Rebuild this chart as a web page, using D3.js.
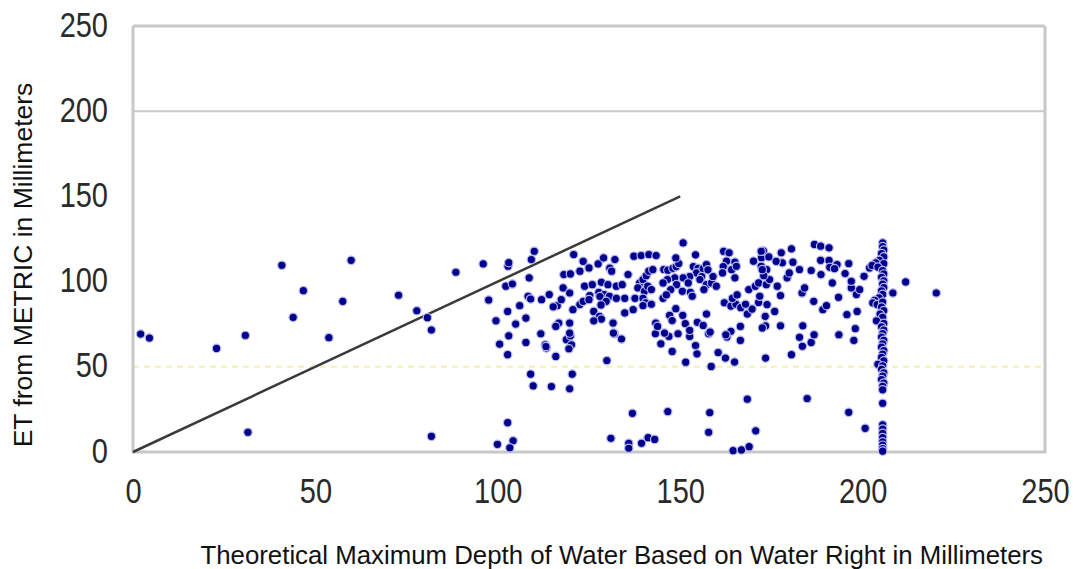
<!DOCTYPE html>
<html>
<head>
<meta charset="utf-8">
<script src="https://cdn.jsdelivr.net/npm/d3@7"></script>
<style>
  body { margin: 0; background: #fff; }
  text { font-family: "Liberation Sans", Arial, sans-serif; }
</style>
</head>
<body>
<div id="root"></div>
<script>
// Size of the chart
const width = 1073;
const height = 569;
const margin = { top: 26, right: 28, bottom: 117, left: 133 };

// Axis ticks
const xTicks = [0, 50, 100, 150, 200, 250];
const yTicks = [0, 50, 100, 150, 200, 250];

// 1:1 reference line
const lineX = [0, 150];
const lineY = [0, 150];

// Points left of the dense cloud [x, y]
const leftPoints = [
  [2.1, 69.2], [4.5, 66.9], [22.9, 60.8], [30.8, 68.4], [31.5, 11.6],
  [40.8, 109.6], [43.9, 79], [46.7, 94.7], [53.7, 67.1], [57.5, 88.4],
  [59.8, 112.5], [72.8, 92], [77.8, 82.9], [80.7, 78.8], [81.8, 71.6],
  [81.8, 9.2], [88.5, 105.5], [96, 110.4], [97.5, 89.2], [99.5, 77],
  [99.9, 4.5], [100.5, 63.3]
];

// Low values (below 50)
const lowPoints = [
  [102.7, 17.2], [104.2, 6.6], [103.3, 2.5], [109, 45.7], [109.7, 38.8],
  [114.7, 38.4], [120.4, 45.7], [119.7, 37.1], [131, 8], [136.9, 22.7],
  [135.9, 5.1], [135.9, 2.2], [139.4, 5.1], [141.2, 8.4], [143, 7.4],
  [146.6, 23.7], [158.1, 23.1], [157.8, 11.6], [168.4, 31], [170.7, 12.4],
  [164.5, 0.8], [166.8, 1.2], [168.9, 3.1], [184.8, 31.4], [196.2, 23.3],
  [200.7, 13.9]
];

// Main cloud between 100 and 200
const cloudPoints = [
  [102.7, 57.1], [103, 68.2], [107.7, 64.3], [113.3, 61], [113, 62.9],
  [115.9, 56.1], [111.8, 69.4], [118.8, 65.9], [120.2, 62.9], [119.5, 60.6],
  [119.9, 68.2], [129.9, 53.7], [132, 69.4], [133.9, 66.3], [143.2, 69.4],
  [144.7, 63.5], [146.9, 67.8], [149.4, 69.4], [147.8, 59], [151.5, 52.7],
  [152.6, 67.8], [154.2, 62.5], [154.6, 57.6], [158.5, 50.2], [157.8, 69.4],
  [160.4, 58.4], [162.4, 55.1], [164.9, 52.8], [162.8, 67.5], [166.5, 65.5],
  [173.4, 55.1], [102.7, 82.5], [104.9, 75.1], [107.7, 78.6], [106, 85.9],
  [108.3, 91.4], [109, 89.8], [113.2, 61.9], [102.2, 97.3], [104, 98.6],
  [102.8, 109], [103, 111.1], [108.6, 102.2], [110, 117.8], [109.2, 112.9],
  [112, 89.4], [114.1, 92.4], [116.3, 85.9], [115.2, 85.2], [117.4, 89.4],
  [117.9, 96.3], [119.7, 93.3], [118.1, 104.1], [119.9, 104.5], [122.5, 106.1],
  [120.8, 115.9], [123.4, 111.9], [125, 108], [127.5, 110.4], [129, 113.9],
  [130.7, 107.9], [132.1, 112.9], [131.2, 106.1], [123.8, 97.3], [125.9, 98.2],
  [128.4, 99.6], [130.2, 98.2], [132.5, 97.3], [134.1, 98.2], [127.7, 93.7],
  [129.2, 92.4], [130.6, 91.4], [128, 91.2], [129.7, 88.4], [132.5, 90.2],
  [134.8, 90.2], [125.2, 91.8], [122.5, 86.5], [123.4, 88.4], [125, 89.4],
  [128.3, 86.3], [120.6, 83.5], [126.3, 82.5], [127.9, 79.6], [128.4, 78],
  [126.3, 77], [131.6, 75.7], [131.7, 69.8], [119.7, 75.7], [116.7, 75.7],
  [115.9, 73.7], [119.7, 69.8], [135.7, 104.1], [137.3, 114.9], [139.3, 115.3],
  [141.4, 115.9], [143.4, 115.3], [138.9, 99.2], [139.8, 101.2], [140.7, 103.5],
  [141.4, 106.1], [142.5, 107], [138.4, 96.3], [140.2, 94.3], [141.1, 97.3],
  [142.1, 95.3], [137.6, 90.2], [139.8, 90.2], [140.5, 87.6], [139.8, 85.9],
  [142.1, 86.7], [137.1, 83.5], [134.8, 81.6], [145.5, 107.1], [146.6, 106.7],
  [148, 107.8], [148.9, 108.8], [149.6, 110.6], [148.8, 113.9], [150.8, 122.7],
  [154.2, 115.7], [153.6, 108.8], [154.9, 107.8], [154.5, 105.1], [156.3, 107.6],
  [157.2, 110], [157.6, 106.9], [155.9, 103], [152.6, 103], [150.8, 102.2],
  [148.5, 102.2], [146.5, 101.2], [145.3, 99.2], [149, 98.2], [152.2, 99.2],
  [155.4, 101.2], [157.2, 98.2], [158.6, 99.2], [159.9, 97.3], [159, 103],
  [161.9, 117.8], [163.4, 116.9], [162.7, 112], [165, 111.4], [161.8, 108.8],
  [164.1, 107], [165.4, 109], [161.6, 105.1], [165, 102.2], [147.4, 95.3],
  [150.6, 94.3], [152.8, 93.7], [156.5, 95.3], [153.3, 91.4], [145.3, 90.2],
  [146.2, 92.2], [148.8, 84.1], [147.1, 80.2], [147.8, 77.1], [150.7, 80.2],
  [151.4, 75.3], [152.6, 71.4], [154.7, 76.1], [157.2, 81], [156.3, 74.3],
  [158.2, 70.4], [143.3, 75.7], [143.8, 73.7], [145.7, 69.8], [162.1, 87.6],
  [163.9, 85.6], [165.3, 86.7], [166.6, 84.7], [164.3, 90.2], [165.6, 92.2],
  [168.4, 81], [169.7, 83.9], [171.5, 87.8], [167.9, 86.7], [168.8, 95.3],
  [170.6, 97.3], [171.5, 99.2], [170.1, 112], [172.3, 114], [172.8, 118],
  [173.7, 107], [166.5, 73.7], [163.9, 70.8], [162.5, 68.8], [173.4, 74],
  [180.5, 57.1], [182.7, 67.3], [183.5, 62], [185.9, 64.3], [186.7, 68.8],
  [183.6, 74.1], [193.5, 68.8], [197.6, 65.5], [198, 72.4], [195.7, 80.6],
  [198.5, 82.5], [177.5, 74.1], [172.5, 72.8], [173.3, 79.6], [175.9, 82.5],
  [173.8, 86.5], [186.6, 88.4], [189.1, 83.5], [190.1, 85.9], [193.4, 90.8],
  [183.4, 93.3], [184.1, 96.3], [177.5, 91.8], [176.6, 97.3], [171.8, 91.4],
  [173.6, 98.2], [196.9, 96.3], [198.3, 92.4], [199.2, 95.3], [196.9, 100.2],
  [191.7, 99.2], [179.3, 102.2], [179.9, 105.1], [174.5, 101.2], [172.9, 103.5],
  [185.9, 106.5], [188.6, 104.1], [182.7, 107.1], [180.9, 111.4], [178, 111],
  [176.3, 111.9], [174.3, 114.5], [177.7, 116.9], [172.2, 117.8], [180.5, 119.2],
  [186.8, 121.8], [188.5, 120.8], [190.8, 119.8], [188.5, 112.5], [190.8, 112.4],
  [191, 108.4], [193, 110], [192.3, 107.6], [196.2, 110.6], [195.2, 104.7],
  [172.2, 109], [172.5, 107], [200.4, 103.1], [201.9, 108]
];

// Points right of the cloud
const rightPoints = [
  [208.3, 93.3], [211.8, 99.8], [220.2, 93.3]
];

// The vertical column of points near 205 [x, y]
const columnPoints = [
  [205.5, 122.7], [205.5, 120.5], [205.8, 118.5], [205.2, 116.5], [205.8, 114.5],
  [204.6, 112.5], [203.6, 111], [202.6, 109.5], [205.8, 110.5], [204.2, 108.5],
  [205.5, 106.5], [205.8, 104.5], [205.2, 102.5], [205.8, 100.5], [205.5, 98.5],
  [205.8, 96.5], [205.2, 94.5], [205.5, 92.5], [204.5, 90.5], [203.3, 89],
  [202.8, 87.5], [204, 86.5], [205.5, 88], [205.2, 85], [205.8, 83],
  [204.8, 81], [205.5, 79], [203.8, 77], [205.8, 75.5], [205.2, 73.5],
  [205.8, 71.5], [205.5, 69.5], [205.2, 67.5], [205.8, 65.5], [205.5, 63.5],
  [205.2, 61.5], [205.8, 59.5], [205.5, 57.5], [205.2, 55.5], [205.8, 53.5],
  [204.2, 51.5], [205.5, 50.5], [205.2, 48.5], [205.8, 46.5], [205.5, 44.5],
  [205.2, 42.5], [205.8, 40.5], [205.5, 38.5], [205.5, 36.5], [205.5, 28.6],
  [205.5, 16], [205.5, 13.5], [205.5, 11], [205.5, 8.5], [205.5, 6],
  [205.5, 4], [205.5, 2], [205.5, 0.5]
];

const svg = d3
  .select("#root")
  .append("svg")
  .attr("width", width)
  .attr("height", height);

const xScale = d3
  .scaleLinear()
  .domain([0, 250])
  .range([margin.left, width - margin.right]);

const yScale = d3
  .scaleLinear()
  .domain([0, 250])
  .range([height - margin.bottom, margin.top]);

// Gridlines at 200 and 250
svg
  .append("g")
  .selectAll("line")
  .data([200, 250])
  .enter()
  .append("line")
  .attr("x1", xScale(0))
  .attr("x2", xScale(250))
  .attr("y1", d => yScale(d))
  .attr("y2", d => yScale(d))
  .attr("stroke", "#c8c8c8")
  .attr("stroke-width", d => (d === 250 ? 3 : 2));

// Faint dotted line at 50
svg
  .append("line")
  .attr("x1", xScale(0))
  .attr("x2", xScale(250))
  .attr("y1", yScale(50))
  .attr("y2", yScale(50))
  .attr("stroke", "#f4f0b8")
  .attr("stroke-width", 2)
  .attr("stroke-dasharray", "6,5");

// Frame: left, bottom and right
svg
  .append("path")
  .attr(
    "d",
    "M" + xScale(0) + "," + yScale(250) +
    "V" + yScale(0) +
    "H" + xScale(250) +
    "V" + yScale(250)
  )
  .attr("fill", "none")
  .attr("stroke", "#c8c8c8")
  .attr("stroke-width", 3);

// Axes
const xAxis = d3.axisBottom(xScale).tickValues(xTicks).tickSize(0).tickPadding(0);
const yAxis = d3.axisLeft(yScale).tickValues(yTicks).tickSize(0).tickPadding(0);

const gx = svg
  .append("g")
  .attr("class", "x-axis")
  .attr("transform", "translate(0," + yScale(0) + ")")
  .call(xAxis);

const gy = svg
  .append("g")
  .attr("class", "y-axis")
  .attr("transform", "translate(" + xScale(0) + ",0)")
  .call(yAxis);

// Tick labels are taller than they are wide in the original
gx.selectAll(".tick text")
  .attr("y", 0)
  .attr("dy", 0)
  .attr("transform", "translate(0,51) scale(1,1.2)");

gy.selectAll(".tick text")
  .attr("x", 0)
  .attr("dy", 0)
  .attr("transform", "translate(-25,10) scale(1,1.2)");

[gx, gy].forEach(g => {
  g.select(".domain").remove();
  g.selectAll("text")
    .attr("fill", "#2a2a2a")
    .style("font-size", "29px")
    .style("font-family", "'Liberation Sans', Arial, sans-serif");
});

// Axis titles
svg
  .append("text")
  .attr("x", 1043)
  .attr("y", 564)
  .attr("text-anchor", "end")
  .attr("fill", "#111")
  .style("font-size", "25.8px")
  .text("Theoretical Maximum Depth of Water Based on Water Right in Millimeters");

svg
  .append("text")
  .attr("transform", "translate(32,265) rotate(-90)")
  .attr("text-anchor", "middle")
  .attr("fill", "#111")
  .style("font-size", "26.5px")
  .text("ET from METRIC in Millimeters");

// 1:1 line
const line = d3
  .line()
  .x(d => xScale(d[0]))
  .y(d => yScale(d[1]));

svg
  .append("path")
  .datum(lineX.map((x, i) => [x, lineY[i]]))
  .attr("fill", "none")
  .attr("stroke", "#3a3a3a")
  .attr("stroke-width", 2.5)
  .attr("d", line);

// Dots
const allPoints = leftPoints
  .concat(lowPoints)
  .concat(cloudPoints)
  .concat(rightPoints)
  .concat(columnPoints);

svg
  .append("g")
  .attr("class", "dots")
  .selectAll("circle")
  .data(allPoints)
  .enter()
  .append("circle")
  .attr("cx", d => xScale(d[0]))
  .attr("cy", d => yScale(d[1]))
  .attr("r", 4.2)
  .attr("fill", "#00008c")
  .attr("stroke", "#b8b8f0")
  .attr("stroke-width", 1.2);
</script>
</body>
</html>
